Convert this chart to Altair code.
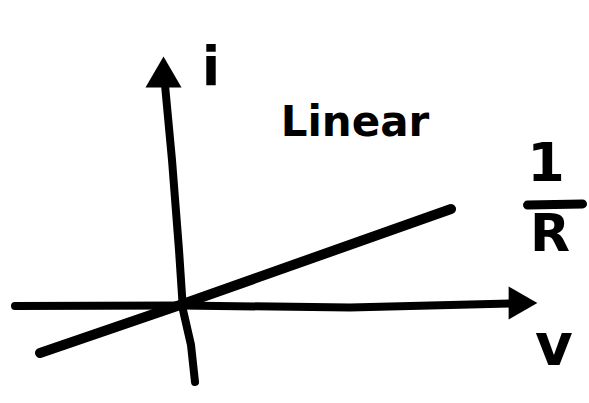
import altair as alt
import pandas as pd

# Sketch of a linear i–v characteristic: current i against voltage v, slope 1/R.
# Coordinates are in sketch units (v to the right, i upward), origin at the crossing.

# vertical (i) axis stroke, bottom to top
i_axis_v = [0.30, 0.22, 0.06, -0.02, -0.16, -0.30]
i_axis_i = [-1.54, -0.80, -0.10, 1.10, 2.90, 4.40]

# horizontal (v) axis stroke, left to right
v_axis_v = [-3.30, 0.00, 3.40, 6.90]
v_axis_i = [-0.02, -0.01, -0.05, 0.04]

# the linear characteristic through the origin
line_v = [-2.80, 0.00, 5.42]
line_i = [-0.96, 0.00, 1.92]

# fraction bar of the 1/R slope label
bar_v = [6.95, 8.05]
bar_i = [2.00, 2.02]

# arrow heads
head_v = [-0.33, 6.86]
head_i = [4.66, 0.04]
head_shape = ["triangle-up", "triangle-right"]
head_size = [1300, 1100]

# text labels
label_text = ["Linear", "i", "1", "R", "v"]
label_v = [3.50, 0.62, 7.32, 7.40, 7.48]
label_i = [3.64, 4.72, 2.80, 1.40, -0.86]
label_size = [42, 54, 54, 52, 58]

X = alt.Scale(domain=[-3.6, 8.18], range=[0, 589], nice=False, zero=False)
Y = alt.Scale(domain=[-1.96, 6.1], range=[403, 0], nice=False, zero=False)


def stroke(vs, is_, width):
    df = pd.DataFrame({"v": vs, "i": is_, "k": range(len(vs))})
    return alt.Chart(df).mark_line(
        color="black", strokeWidth=width, strokeCap="round", strokeJoin="round",
    ).encode(
        x=alt.X("v:Q", scale=X, axis=None),
        y=alt.Y("i:Q", scale=Y, axis=None),
        order="k:Q",
    )


i_axis = stroke(i_axis_v, i_axis_i, 8)
v_axis = stroke(v_axis_v, v_axis_i, 8)
linear = stroke(line_v, line_i, 10)
bar = stroke(bar_v, bar_i, 9)

heads = alt.Chart(pd.DataFrame({
    "v": head_v, "i": head_i, "s": head_shape, "sz": head_size,
})).mark_point(filled=True, color="black", opacity=1).encode(
    x=alt.X("v:Q", scale=X, axis=None),
    y=alt.Y("i:Q", scale=Y, axis=None),
    shape=alt.Shape("s:N", scale=alt.Scale(domain=head_shape, range=head_shape), legend=None),
    size=alt.Size("sz:Q", scale=None, legend=None),
)

labels = alt.Chart(pd.DataFrame({
    "t": label_text, "v": label_v, "i": label_i, "fs": label_size,
})).mark_text(
    color="black", font="DejaVu Sans", fontWeight="bold", align="center", baseline="middle"
).encode(
    x=alt.X("v:Q", scale=X, axis=None),
    y=alt.Y("i:Q", scale=Y, axis=None),
    text="t:N",
    size=alt.Size("fs:Q", scale=None, legend=None),
)

chart = alt.layer(i_axis, v_axis, linear, bar, heads, labels).properties(
    width=589, height=403, padding=0, autosize="none", background="white",
).configure_view(stroke=None)

chart.save("out.html", embed_options={"renderer": "svg", "actions": False})
